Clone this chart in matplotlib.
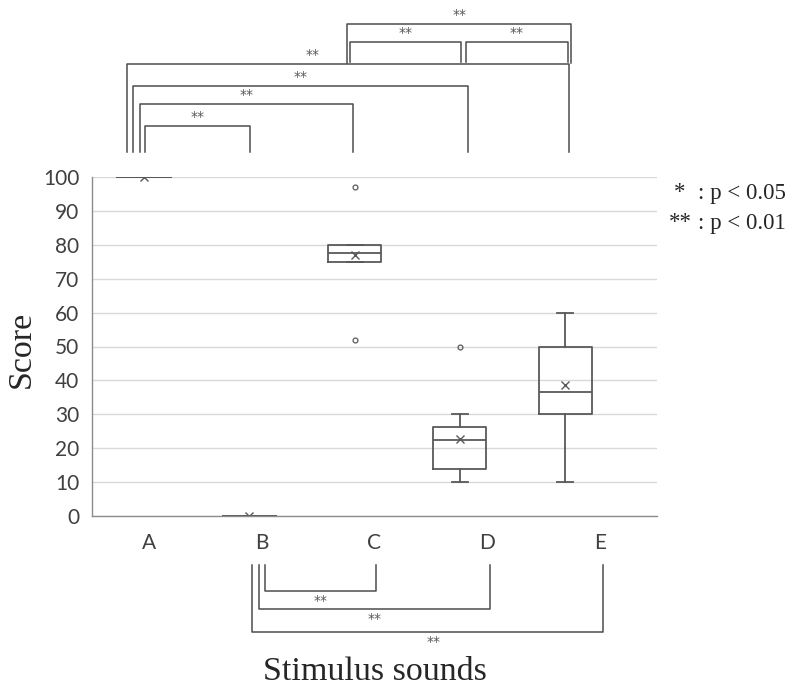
import matplotlib
matplotlib.use("Agg")
import matplotlib.pyplot as plt
import numpy as np

# ── data ──
categories = ["A", "B", "C", "D", "E"]
q1 = [100, 0, 75, 14, 30]
median = [100, 0, 77.5, 22.5, 36.5]
q3 = [100, 0, 80, 26.3, 50]
whislo = [100, 0, 75, 10, 10]
whishi = [100, 0, 80, 30, 60]
means = [100, 0, 77, 22.7, 38.5]
outliers = [[], [], [97, 52], [50], []]

# significance pairs (all **)
top_pairs = [("A", "B"), ("A", "C"), ("A", "D"), ("A", "E"), ("C", "D"), ("D", "E"), ("C", "E")]
bottom_pairs = [("B", "C"), ("B", "D"), ("B", "E")]
sig_label = "**"

BOX = "#595959"
GRID = "#d9d9d9"
SPINE = "#8c8c8c"
LINE = "#4d4d4d"
SANS = ["Lato", "DejaVu Sans"]
SERIF = ["Liberation Serif", "DejaVu Serif"]


def main():
    fig = plt.figure(figsize=(7.95, 6.87), dpi=100)
    ax = fig.add_axes([92 / 795, 1 - 516 / 687, 565 / 795, 339 / 687])

    # box centres sit a little left of the category slots (as in the original)
    box_pos = np.arange(len(categories)) * 0.932 - 0.04
    stats = []
    for i, c in enumerate(categories):
        stats.append(dict(label=c, q1=q1[i], med=median[i], q3=q3[i],
                          whislo=whislo[i], whishi=whishi[i], mean=means[i],
                          fliers=outliers[i]))
    ax.bxp(stats, positions=box_pos, widths=0.47, showmeans=True,
           capwidths=0.14, manage_ticks=False, patch_artist=False,
           boxprops=dict(color=BOX, linewidth=1.3),
           medianprops=dict(color=BOX, linewidth=1.3),
           whiskerprops=dict(color=BOX, linewidth=1.3),
           capprops=dict(color=BOX, linewidth=1.3),
           meanprops=dict(marker="x", markeredgecolor=BOX, markersize=6, markeredgewidth=1.0),
           flierprops=dict(marker="o", markerfacecolor="none", markeredgecolor=BOX,
                           markersize=3.5, markeredgewidth=0.9))

    ax.set_xlim(-0.5, 4.5)
    ax.set_ylim(0, 100)
    ax.set_yticks(np.arange(0, 101, 10))
    ax.set_xticks(np.arange(len(categories)))
    ax.set_xticklabels(categories, fontfamily=SANS, fontsize=15, color="#404040")
    for t in ax.get_yticklabels():
        t.set_fontfamily(SANS)
        t.set_fontsize(15)
        t.set_color("#404040")
    ax.tick_params(length=0, axis="y", pad=9)
    ax.tick_params(length=0, axis="x", pad=12)
    ax.grid(axis="y", color=GRID, linewidth=1.0)
    ax.set_axisbelow(True)
    for s in ["top", "right"]:
        ax.spines[s].set_visible(False)
    for s in ["left", "bottom"]:
        ax.spines[s].set_color(SPINE)
        ax.spines[s].set_linewidth(1.0)

    # ── brackets above the plot ──
    idx = {c: i for i, c in enumerate(categories)}
    kw = dict(color=LINE, linewidth=1.1, clip_on=False)
    star_kw = dict(ha="center", fontsize=10, color=BOX, fontfamily=["DejaVu Sans"])
    # (left offset, right offset, y of bar, y of legs' foot, star x)
    top_geom = {
        ("A", "B"): (0.01, 0.01, 115.0, 107.4, None),
        ("A", "C"): (-0.035, -0.01, 121.5, 107.4, None),
        ("A", "D"): (-0.095, 0.07, 126.8, 107.4, None),
        ("A", "E"): (-0.15, 0.035, 133.3, 107.4, 1.45),
        ("C", "D"): (-0.04, 0.01, 139.8, 133.9, None),
        ("D", "E"): (0.055, 0.02, 139.8, 133.9, None),
        ("C", "E"): (-0.065, 0.05, 145.1, 133.6, None),
    }
    for a, b in top_pairs:
        lo, ro, yb, yf, sx = top_geom[(a, b)]
        x0 = box_pos[idx[a]] + lo
        x1 = box_pos[idx[b]] + ro
        ax.plot([x0, x0, x1, x1], [yf, yb, yb, yf], **kw)
        xs = sx if sx is not None else (x0 + x1) / 2
        ax.text(xs, yb + 0.5, sig_label, va="bottom", **star_kw)

    # ── brackets below the plot ──
    bottom_geom = {
        ("B", "C"): (0.03, 0.01, -22.1, None),
        ("B", "D"): (-0.02, 0.02, -27.4, None),
        ("B", "E"): (-0.08, 0.02, -34.2, 2.52),
    }
    for a, b in bottom_pairs:
        lo, ro, yb, sx = bottom_geom[(a, b)]
        x0 = idx[a] + lo
        x1 = idx[b] + ro
        ax.plot([x0, x0, x1, x1], [-14.5, yb, yb, -14.5], **kw)
        xs = sx if sx is not None else (x0 + x1) / 2
        ax.text(xs, yb - 1.0, sig_label, va="top", **star_kw)

    # ── labels ──
    fig.text(22 / 795, 1 - 349 / 687, "Score", rotation=90, ha="center", va="center",
             fontsize=24.5, fontfamily=SERIF, color="#262626")
    fig.text(375 / 795, 1 - 672 / 687, "Stimulus sounds", ha="center", va="center",
             fontsize=24.5, fontfamily=SERIF, color="#262626")

    # legend for significance levels
    for yy, star, p in [(193, "*", "0.05"), (223, "**", "0.01")]:
        fig.text(680 / 795, 1 - yy / 687, star, ha="center", va="center",
                 fontsize=16.5, fontfamily=SERIF, color="#262626")
        fig.text(698 / 795, 1 - yy / 687, f": p < {p}", ha="left", va="center",
                 fontsize=16.5, fontfamily=SERIF, color="#262626")

    fig.savefig("out.png", dpi=100)
    plt.close(fig)


if __name__ == "__main__":
    main()
